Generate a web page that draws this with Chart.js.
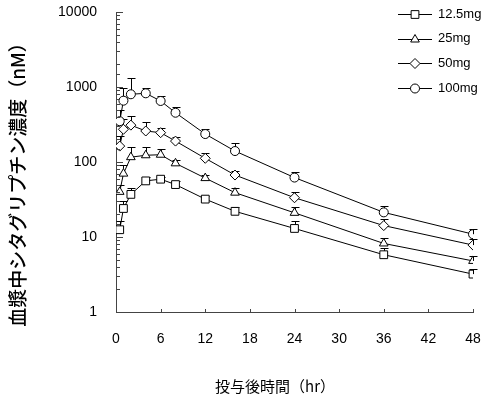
<!DOCTYPE html>
<html>
<head>
<meta charset="utf-8">
<script src="https://cdn.jsdelivr.net/npm/chart.js@4/dist/chart.umd.min.js"></script>
<style>
  html, body { margin: 0; padding: 0; background: #fff; }
  #wrap { width: 484px; height: 399px; }
</style>
</head>
<body>
<div id="wrap"><canvas id="pkChart" width="484" height="399"></canvas></div>
<script>
// sampling times (hr)
const times = [0.5, 1, 2, 4, 6, 8, 12, 16, 24, 36, 48];

// mean plasma concentrations (nM)
const dose12_5 = [12.5, 24, 37, 56, 59, 50, 32, 22, 13, 5.8, 3.2];
const dose25 = [40, 70, 116, 123, 125, 96, 61, 39, 21, 8.2, 4.8];
const dose50 = [163, 273, 310, 259, 246, 190, 112, 67, 33.4, 14.2, 7.8];
const dose100 = [350, 657, 800, 824, 651, 454, 236, 140, 62, 21.3, 10.9];

// upper error (SD) for each point
const sd12_5 = [4, 6, 8, 6.5, 4, 5, 3, 3, 3.5, 1.3, 0.6];
const sd25 = [10, 20, 42, 35, 25, 10, 6, 6.5, 3.8, 1.4, 0.7];
const sd50 = [60, 100, 98, 79, 35, 27, 19, 9, 6.6, 3.2, 1.6];
const sd100 = [150, 300, 506, 156, 100, 91, 39, 41, 12, 4.7, 1.9];

const doseLabels = ["12.5mg", "25mg", "50mg", "100mg"];
const xTicks = [0, 6, 12, 18, 24, 30, 36, 42, 48];

const numFont = "'Liberation Sans', Arial, sans-serif";
const cjkFont = "'Noto Sans CJK JP', sans-serif";

function makeSet(label, values, sd, style, radius) {
  return {
    label: label,
    data: values.map((v, i) => ({ x: times[i], y: v })),
    sd: sd,
    borderColor: "#000",
    borderWidth: 1,
    backgroundColor: "#fff",
    pointStyle: style,
    pointRadius: radius,
    pointBackgroundColor: "#fff",
    pointBorderColor: "#000",
    pointBorderWidth: 1,
    tension: 0,
  };
}

function noEdgePadding(scale) {
  scale.paddingTop = 0;
  scale.paddingBottom = 0;
  scale.paddingLeft = 0;
  scale.paddingRight = 0;
}

// vertical SD bars with a cap, above each point
const errorBars = {
  id: "errorBars",
  beforeDatasetsDraw(chart) {
    const { ctx, scales } = chart;
    ctx.save();
    ctx.strokeStyle = "#000";
    ctx.lineWidth = 1;
    chart.data.datasets.forEach((ds) => {
      ds.data.forEach((p, j) => {
        const px = Math.round(scales.x.getPixelForValue(p.x)) + 0.5;
        const py = scales.y.getPixelForValue(p.y);
        const top = Math.round(scales.y.getPixelForValue(p.y + ds.sd[j])) + 0.5;
        ctx.beginPath();
        ctx.moveTo(px, py);
        ctx.lineTo(px, top);
        ctx.moveTo(px - 4, top);
        ctx.lineTo(px + 4, top);
        ctx.stroke();
      });
    });
    ctx.restore();
  },
};

// inward tick marks, legend and axis titles
const decorations = {
  id: "decorations",
  afterDraw(chart) {
    const { ctx, scales, chartArea } = chart;
    const x = scales.x, y = scales.y;
    ctx.save();
    ctx.strokeStyle = "#444";
    ctx.lineWidth = 1;
    ctx.beginPath();
    y.ticks.forEach((t) => {
      const py = Math.round(y.getPixelForValue(t.value)) + 0.5;
      const isDecade = Math.abs(Math.log10(t.value) - Math.round(Math.log10(t.value))) < 1e-9;
      ctx.moveTo(chartArea.left, py);
      ctx.lineTo(chartArea.left + (isDecade ? 7 : 4), py);
    });
    x.ticks.forEach((t) => {
      const px = Math.round(x.getPixelForValue(t.value)) + 0.5;
      ctx.moveTo(px, chartArea.bottom);
      ctx.lineTo(px, chartArea.bottom - 3);
    });
    ctx.stroke();

    // legend
    ctx.font = "13px " + numFont;
    ctx.textBaseline = "middle";
    ctx.textAlign = "left";
    chart.data.datasets.forEach((ds, i) => {
      const ly = 14 + i * 24.7;
      ctx.strokeStyle = "#000";
      ctx.beginPath();
      ctx.moveTo(398, Math.round(ly) + 0.5);
      ctx.lineTo(432, Math.round(ly) + 0.5);
      ctx.stroke();
      ctx.fillStyle = "#fff";
      Chart.helpers.drawPoint(ctx, {
        pointStyle: ds.pointStyle,
        radius: ds.pointRadius,
        borderWidth: 1,
      }, 415, Math.round(ly) + 0.5);
      ctx.fillStyle = "#000";
      ctx.fillText(ds.label, 438, ly);
    });

    // axis titles
    ctx.fillStyle = "#000";
    ctx.font = "15px " + cjkFont;
    ctx.textAlign = "center";
    ctx.fillText("投与後時間（hr）", 275, 386);
    ctx.save();
    ctx.translate(18, 180);
    ctx.rotate(-Math.PI / 2);
    ctx.font = "500 19px " + cjkFont;
    ctx.fillText("血漿中シタグリプチン濃度（nM）", 0, 0);
    ctx.restore();
    ctx.restore();
  },
};

const ctx = document.getElementById("pkChart").getContext("2d");
new Chart(ctx, {
  type: "line",
  data: {
    datasets: [
      makeSet(doseLabels[0], dose12_5, sd12_5, "rect", 5.5),
      makeSet(doseLabels[1], dose25, sd25, "triangle", 5),
      makeSet(doseLabels[2], dose50, sd50, "rectRot", 5),
      makeSet(doseLabels[3], dose100, sd100, "circle", 4.5),
    ],
  },
  options: {
    responsive: false,
    animation: false,
    devicePixelRatio: 1,
    layout: { autoPadding: false, padding: { top: 12, right: 11, left: 0, bottom: 0 } },
    plugins: {
      legend: { display: false },
      tooltip: { enabled: false },
    },
    scales: {
      x: {
        type: "linear",
        min: 0,
        max: 48,
        afterBuildTicks: (scale) => {
          scale.ticks = xTicks.map((v) => ({ value: v }));
        },
        afterFit: (scale) => {
          scale.height = 87;
          noEdgePadding(scale);
        },
        grid: { display: false, drawTicks: false },
        border: { display: true, color: "#444", width: 1 },
        ticks: {
          color: "#000",
          padding: 19,
          maxRotation: 0,
          autoSkip: false,
          font: { family: numFont, size: 14 },
        },
      },
      y: {
        type: "logarithmic",
        min: 1,
        max: 10000,
        afterFit: (scale) => {
          scale.width = 116;
          noEdgePadding(scale);
        },
        grid: { display: false, drawTicks: false },
        border: { display: true, color: "#444", width: 1 },
        ticks: {
          color: "#000",
          padding: 19,
          autoSkip: false,
          font: { family: numFont, size: 14 },
          callback: (v) => {
            const l = Math.log10(v);
            return Math.abs(l - Math.round(l)) < 1e-9 ? String(v) : "";
          },
        },
      },
    },
  },
  plugins: [errorBars, decorations],
});
</script>
</body>
</html>
